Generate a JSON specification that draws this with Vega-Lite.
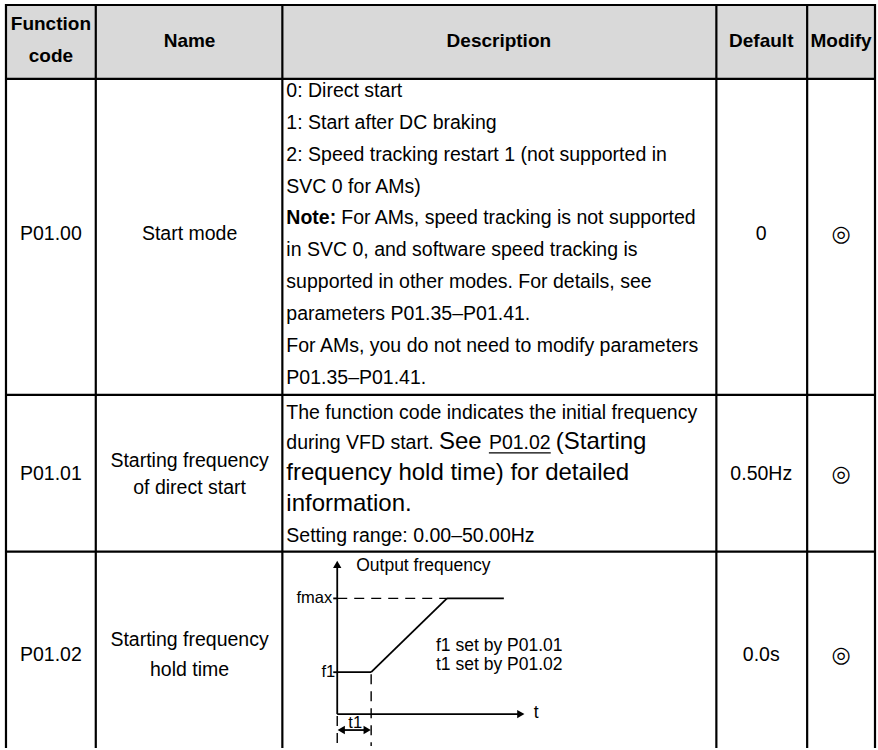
{
  "$schema": "https://vega.github.io/schema/vega-lite/v6.json",
  "width": 878,
  "height": 750,
  "autosize": {"type": "fit", "contains": "padding"},
  "padding": 0,
  "background": "white",
  "config": {"view": {"stroke": null}, "font": "Liberation Sans"},
  "datasets": {
    "bg": [{"x": 6, "x2": 877, "y": 5, "y2": 79}],
    "grid": [
      {"x": 5, "x2": 878, "y": 5, "y2": 5},
      {"x": 5, "x2": 878, "y": 79, "y2": 79},
      {"x": 5, "x2": 878, "y": 396, "y2": 396},
      {"x": 5, "x2": 878, "y": 553, "y2": 553},
      {"x": 6, "x2": 6, "y": 4, "y2": 750},
      {"x": 96, "x2": 96, "y": 4, "y2": 750},
      {"x": 283, "x2": 283, "y": 4, "y2": 750},
      {"x": 718, "x2": 718, "y": 4, "y2": 750},
      {"x": 809, "x2": 809, "y": 4, "y2": 750},
      {"x": 877, "x2": 877, "y": 4, "y2": 750}
    ],
    "header": [
      {"x": 51, "y": 24, "text": "Function"},
      {"x": 51, "y": 56, "text": "code"},
      {"x": 190, "y": 41, "text": "Name"},
      {"x": 500, "y": 41, "text": "Description"},
      {"x": 763, "y": 41, "text": "Default"},
      {"x": 843, "y": 41, "text": "Modify"}
    ],
    "cells": [
      {"x": 51, "y": 235, "text": "P01.00"},
      {"x": 190, "y": 235, "text": "Start mode"},
      {"x": 763, "y": 235, "text": "0"},
      {"x": 51, "y": 475, "text": "P01.01"},
      {"x": 190, "y": 462, "text": "Starting frequency"},
      {"x": 190, "y": 489, "text": "of direct start"},
      {"x": 763, "y": 475, "text": "0.50Hz"},
      {"x": 51, "y": 657, "text": "P01.02"},
      {"x": 190, "y": 642, "text": "Starting frequency"},
      {"x": 190, "y": 672, "text": "hold time"},
      {"x": 763, "y": 657, "text": "0.0s"}
    ],
    "symbols": [
      {"x": 843, "y": 235, "text": "◎"},
      {"x": 843, "y": 475, "text": "◎"},
      {"x": 843, "y": 657, "text": "◎"}
    ],
    "desc": [
      {"x": 287, "y": 91, "text": "0: Direct start"},
      {"x": 287, "y": 123, "text": "1: Start after DC braking"},
      {"x": 287, "y": 155, "text": "2: Speed tracking restart 1 (not supported in"},
      {"x": 287, "y": 187, "text": "SVC 0 for AMs)"},
      {"x": 342, "y": 219, "text": "For AMs, speed tracking is not supported"},
      {"x": 287, "y": 251, "text": "in SVC 0, and software speed tracking is"},
      {"x": 287, "y": 283, "text": "supported in other modes. For details, see"},
      {"x": 287, "y": 315, "text": "parameters P01.35–P01.41."},
      {"x": 287, "y": 347, "text": "For AMs, you do not need to modify parameters"},
      {"x": 287, "y": 379, "text": "P01.35–P01.41."},
      {"x": 287, "y": 414, "text": "The function code indicates the initial frequency"},
      {"x": 287, "y": 444, "text": "during VFD start."},
      {"x": 490, "y": 444, "text": "P01.02"},
      {"x": 287, "y": 537, "text": "Setting range: 0.00–50.00Hz"}
    ],
    "descBold": [{"x": 287, "y": 219, "text": "Note:"}],
    "descBig": [
      {"x": 440, "y": 443, "text": "See"},
      {"x": 557, "y": 443, "text": "(Starting"},
      {"x": 287, "y": 474, "text": "frequency hold time) for detailed"},
      {"x": 287, "y": 505, "text": "information."}
    ],
    "underline": [{"x": 490, "x2": 552, "y": 454, "y2": 454}],
    "solid": [
      {"x": 338, "x2": 338, "y": 566, "y2": 716},
      {"x": 338, "x2": 520, "y": 716, "y2": 716},
      {"x": 334, "x2": 338, "y": 600, "y2": 600},
      {"x": 334, "x2": 338, "y": 674, "y2": 674},
      {"x": 338, "x2": 372, "y": 674, "y2": 674},
      {"x": 372, "x2": 448, "y": 674, "y2": 600},
      {"x": 448, "x2": 505, "y": 600, "y2": 600},
      {"x": 342, "x2": 368, "y": 732, "y2": 732}
    ],
    "dashed": [
      {"x": 338, "x2": 448, "y": 600, "y2": 600},
      {"x": 372, "x2": 372, "y": 676, "y2": 748},
      {"x": 338, "x2": 338, "y": 718, "y2": 748}
    ],
    "arrowUp": [{"x": 338, "y": 566}],
    "arrowRight": [{"x": 522, "y": 716}, {"x": 368, "y": 732}],
    "arrowLeft": [{"x": 342, "y": 732}],
    "diagText": [
      {"x": 357, "y": 568, "text": "Output frequency"},
      {"x": 437, "y": 648, "text": "f1 set by P01.01"},
      {"x": 437, "y": 667, "text": "t1 set by P01.02"},
      {"x": 535, "y": 715, "text": "t"}
    ],
    "diagTextRight": [
      {"x": 333, "y": 600, "text": "fmax"},
      {"x": 336, "y": 674, "text": "f1"}
    ],
    "diagTextCenter": [{"x": 356, "y": 725, "text": "t1"}]
  },
  "encoding": {
    "x": {"field": "x", "type": "quantitative", "scale": {"domain": [0, 878], "nice": false, "zero": false}, "axis": null},
    "y": {"field": "y", "type": "quantitative", "scale": {"domain": [0, 750], "nice": false, "zero": false, "reverse": true}, "axis": null}
  },
  "layer": [
    {
      "data": {"name": "bg"},
      "mark": {"type": "rect", "color": "#d9d9d9"},
      "encoding": {"x2": {"field": "x2"}, "y2": {"field": "y2"}}
    },
    {
      "data": {"name": "grid"},
      "mark": {"type": "rule", "color": "#000000", "strokeWidth": 2.2},
      "encoding": {"x2": {"field": "x2"}, "y2": {"field": "y2"}}
    },
    {
      "data": {"name": "header"},
      "mark": {"type": "text", "fontSize": 19, "fontWeight": "bold", "align": "center", "baseline": "middle", "color": "#000000"},
      "encoding": {"text": {"field": "text"}}
    },
    {
      "data": {"name": "cells"},
      "mark": {"type": "text", "fontSize": 19.5, "align": "center", "baseline": "middle", "color": "#000000"},
      "encoding": {"text": {"field": "text"}}
    },
    {
      "data": {"name": "symbols"},
      "mark": {"type": "text", "fontSize": 22, "font": "DejaVu Sans", "align": "center", "baseline": "middle", "color": "#000000"},
      "encoding": {"text": {"field": "text"}}
    },
    {
      "data": {"name": "desc"},
      "mark": {"type": "text", "fontSize": 19.5, "align": "left", "baseline": "middle", "color": "#000000"},
      "encoding": {"text": {"field": "text"}}
    },
    {
      "data": {"name": "descBold"},
      "mark": {"type": "text", "fontSize": 19.5, "fontWeight": "bold", "align": "left", "baseline": "middle", "color": "#000000"},
      "encoding": {"text": {"field": "text"}}
    },
    {
      "data": {"name": "descBig"},
      "mark": {"type": "text", "fontSize": 24, "align": "left", "baseline": "middle", "color": "#000000"},
      "encoding": {"text": {"field": "text"}}
    },
    {
      "data": {"name": "underline"},
      "mark": {"type": "rule", "color": "#000000", "strokeWidth": 1.2},
      "encoding": {"x2": {"field": "x2"}, "y2": {"field": "y2"}}
    },
    {
      "data": {"name": "solid"},
      "mark": {"type": "rule", "color": "#000000", "strokeWidth": 1.8},
      "encoding": {"x2": {"field": "x2"}, "y2": {"field": "y2"}}
    },
    {
      "data": {"name": "dashed"},
      "mark": {"type": "rule", "color": "#000000", "strokeWidth": 1.4, "strokeDash": [10, 7]},
      "encoding": {"x2": {"field": "x2"}, "y2": {"field": "y2"}}
    },
    {
      "data": {"name": "arrowUp"},
      "mark": {"type": "point", "shape": "triangle-up", "filled": true, "size": 70, "color": "#000000", "opacity": 1}
    },
    {
      "data": {"name": "arrowRight"},
      "mark": {"type": "point", "shape": "triangle-right", "filled": true, "size": 70, "color": "#000000", "opacity": 1}
    },
    {
      "data": {"name": "arrowLeft"},
      "mark": {"type": "point", "shape": "triangle-left", "filled": true, "size": 70, "color": "#000000", "opacity": 1}
    },
    {
      "data": {"name": "diagText"},
      "mark": {"type": "text", "fontSize": 17.5, "align": "left", "baseline": "middle", "color": "#000000"},
      "encoding": {"text": {"field": "text"}}
    },
    {
      "data": {"name": "diagTextRight"},
      "mark": {"type": "text", "fontSize": 16.5, "align": "right", "baseline": "middle", "color": "#000000"},
      "encoding": {"text": {"field": "text"}}
    },
    {
      "data": {"name": "diagTextCenter"},
      "mark": {"type": "text", "fontSize": 16.5, "align": "center", "baseline": "middle", "color": "#000000"},
      "encoding": {"text": {"field": "text"}}
    }
  ]
}
